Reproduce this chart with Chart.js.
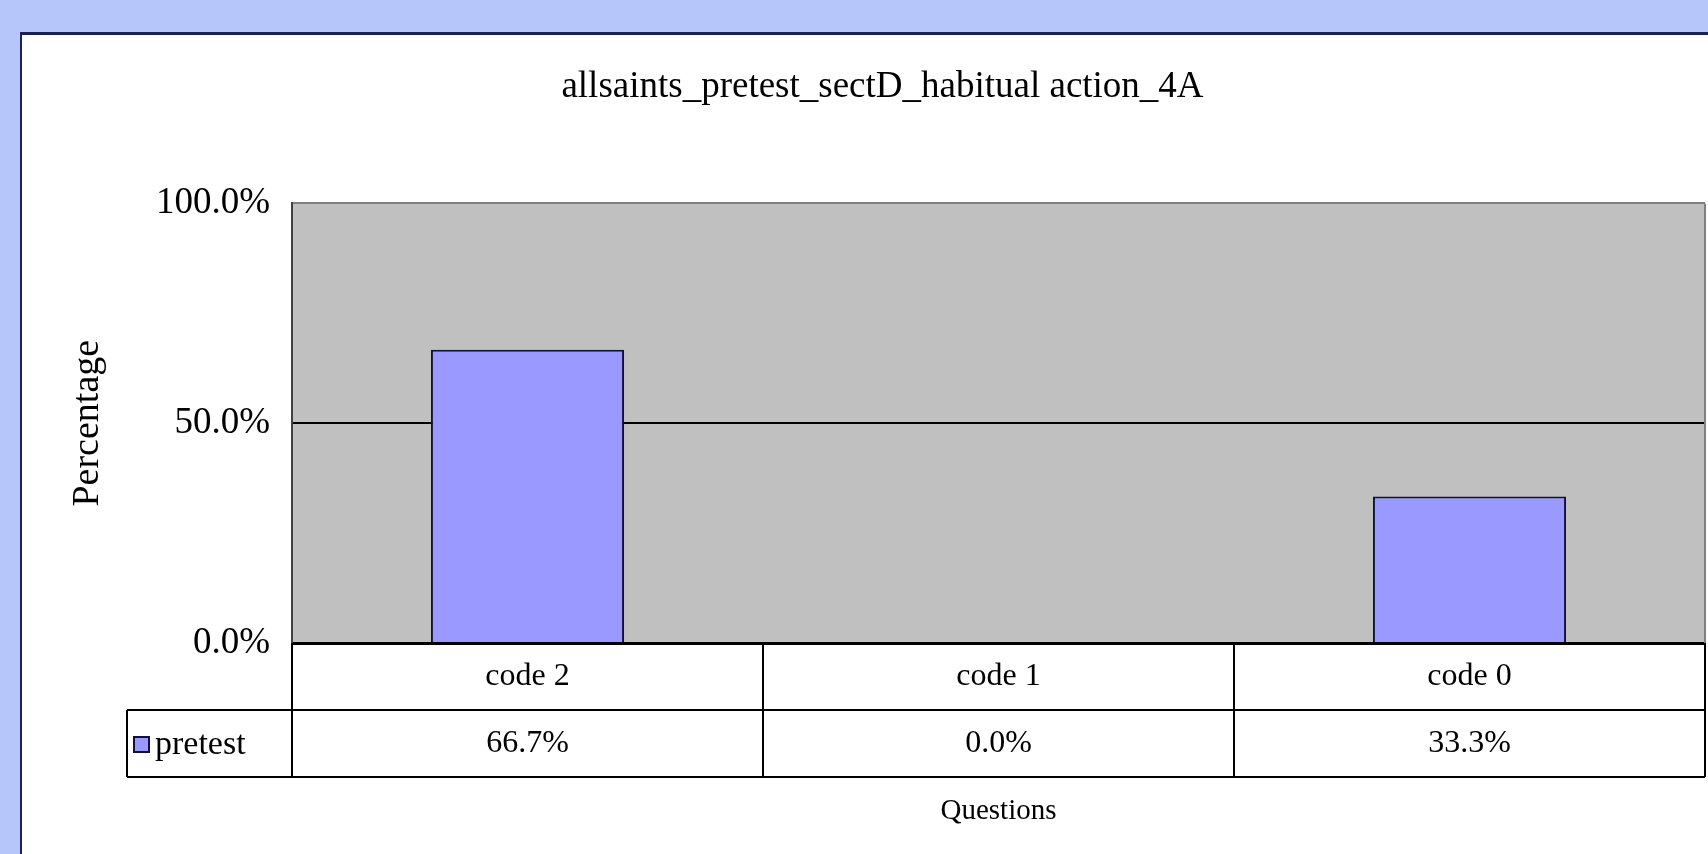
<!DOCTYPE html>
<html>
<head>
<meta charset="utf-8">
<title>allsaints_pretest_sectD_habitual action_4A</title>
<script src="https://cdn.jsdelivr.net/npm/chart.js"></script>
<style>
  html, body { margin: 0; padding: 0; }
  body { width: 1708px; height: 854px; background: #b6c6fa; overflow: hidden; position: relative; }
  .panel {
    position: absolute; left: 20px; top: 32px; width: 1700px; height: 840px;
    background: #fff; border-left: 2px solid #1b2150; border-top: 3px solid #1b2150;
  }
  #chartBox { position: absolute; left: 0; top: 0; }
</style>
</head>
<body>
<div class="panel"></div>
<div id="chartBox"><canvas id="pretestChart" width="1708" height="854"></canvas></div>

<script>
/* =====================================================
   CHART DATA
===================================================== */

const categories = ["code 2", "code 1", "code 0"];
const seriesName = "pretest";
const pretestValues = [66.7, 0.0, 33.3];
const yTicks = [0, 50, 100];

const FONT = "'Liberation Serif', 'Times New Roman', serif";
Chart.defaults.font.family = FONT;
Chart.defaults.color = "#000";

const fmtPct = v => Number(v).toFixed(1) + "%";


/* =====================================================
   PLOT BACKGROUND + DATA TABLE UNDER THE AXIS
===================================================== */

const dataTablePlugin = {
  id: "dataTable",

  beforeDraw(chart) {
    const { ctx, chartArea: a } = chart;
    ctx.save();
    ctx.fillStyle = "#c0c0c0";
    ctx.fillRect(a.left, a.top, a.right - a.left, a.bottom - a.top);
    ctx.restore();
  },

  afterDraw(chart) {
    const { ctx, chartArea: a, scales: { x } } = chart;
    const rowH = 67;
    const row1 = a.bottom + rowH;
    const row2 = a.bottom + rowH * 2;
    const half = (x.getPixelForValue(1) - x.getPixelForValue(0)) / 2;
    const legendLeft = a.left - 165;

    ctx.save();

    // right edge of plot area
    ctx.strokeStyle = "#808080";
    ctx.lineWidth = 2;
    ctx.beginPath();
    ctx.moveTo(a.right, a.top);
    ctx.lineTo(a.right, a.bottom);
    ctx.stroke();

    // table grid
    ctx.strokeStyle = "#000";
    ctx.lineWidth = 2;
    ctx.beginPath();
    ctx.moveTo(legendLeft, row1); ctx.lineTo(a.right, row1);
    ctx.moveTo(legendLeft, row2); ctx.lineTo(a.right, row2);
    ctx.moveTo(legendLeft, row1); ctx.lineTo(legendLeft, row2);
    ctx.moveTo(a.left, a.bottom); ctx.lineTo(a.left, row2);
    categories.forEach((c, i) => {
      const right = x.getPixelForValue(i) + half;
      ctx.moveTo(right, a.bottom);
      ctx.lineTo(right, row2);
    });
    ctx.stroke();

    // category names and values
    ctx.fillStyle = "#000";
    ctx.font = "32px " + FONT;
    ctx.textAlign = "center";
    ctx.textBaseline = "middle";
    categories.forEach((c, i) => {
      const cx = x.getPixelForValue(i);
      ctx.fillText(c, cx, a.bottom + rowH / 2);
      ctx.fillText(fmtPct(pretestValues[i]), cx, row1 + rowH / 2);
    });

    // legend key
    const ds = chart.data.datasets[0];
    ctx.fillStyle = ds.backgroundColor;
    ctx.fillRect(legendLeft + 7, row1 + 27, 15, 15);
    ctx.strokeStyle = ds.borderColor;
    ctx.lineWidth = 2;
    ctx.strokeRect(legendLeft + 7, row1 + 27, 15, 15);
    ctx.fillStyle = "#000";
    ctx.font = "34px " + FONT;
    ctx.textAlign = "left";
    ctx.fillText(seriesName, legendLeft + 28, row1 + rowH / 2 + 2);

    ctx.restore();
  }
};


/* =====================================================
   BAR CHART
===================================================== */

new Chart(document.getElementById("pretestChart"), {
  type: "bar",
  data: {
    labels: categories,
    datasets: [{
      label: seriesName,
      data: pretestValues,
      backgroundColor: "#9999ff",
      borderColor: "#10103a",
      borderWidth: 2,
      barPercentage: 0.41,
      categoryPercentage: 1
    }]
  },
  options: {
    responsive: false,
    animation: false,
    layout: { padding: { left: 60, right: 3, top: 0, bottom: 0 } },
    plugins: {
      legend: { display: false },
      tooltip: { enabled: false },
      title: {
        display: true,
        text: "allsaints_pretest_sectD_habitual action_4A",
        font: { size: 37, weight: "normal" },
        color: "#000",
        padding: { top: 65, bottom: 94 }
      }
    },
    scales: {
      x: {
        ticks: { display: false },
        grid: { display: false },
        border: { color: "#000", width: 3 },
        title: {
          display: true,
          text: "Questions",
          font: { size: 29 },
          color: "#000",
          padding: { top: 0, bottom: 25 }
        },
        afterFit: scale => { scale.height = 211; }
      },
      y: {
        min: 0,
        max: 100,
        afterBuildTicks: scale => { scale.ticks = yTicks.map(v => ({ value: v })); },
        ticks: {
          padding: 22,
          font: { size: 37 },
          color: "#000",
          callback: v => fmtPct(v)
        },
        grid: {
          drawTicks: false,
          lineWidth: 2,
          color: ctx => ctx.tick && ctx.tick.value === 100 ? "#808080" : "#000"
        },
        border: { color: "#404040", width: 2 },
        title: {
          display: true,
          text: "Percentage",
          font: { size: 38 },
          color: "#000",
          padding: { top: 5 }
        },
        afterFit: scale => { scale.width = 232; }
      }
    }
  },
  plugins: [dataTablePlugin]
});
</script>
</body>
</html>
